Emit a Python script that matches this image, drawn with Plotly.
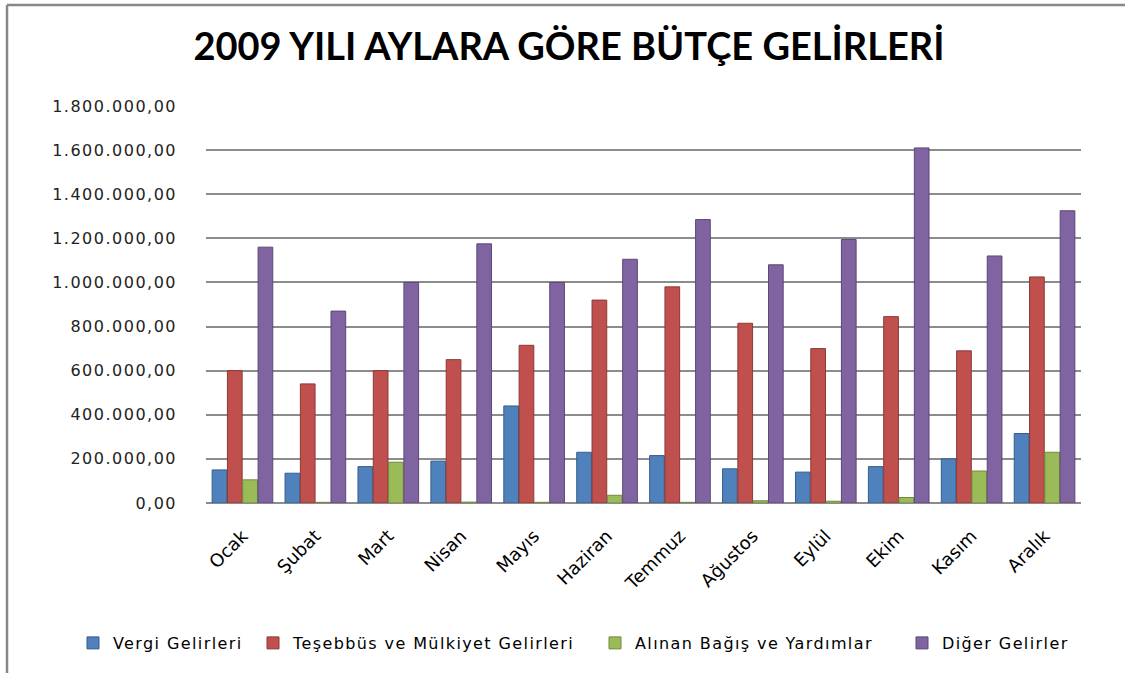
import plotly.graph_objects as go

months = ["Ocak", "Şubat", "Mart", "Nisan", "Mayıs", "Haziran", "Temmuz",
          "Ağustos", "Eylül", "Ekim", "Kasım", "Aralık"]
vergi = [150000, 135000, 165000, 190000, 440000, 230000, 215000, 155000, 140000, 165000, 200000, 315000]
tesebbus = [600000, 540000, 600000, 650000, 715000, 920000, 980000, 815000, 700000, 845000, 690000, 1025000]
bagis = [105000, 3000, 185000, 4000, 3000, 35000, 3000, 10000, 8000, 25000, 145000, 230000]
diger = [1160000, 870000, 1000000, 1175000, 1000000, 1105000, 1285000, 1080000, 1195000, 1610000, 1120000, 1325000]
y_ticks = [0, 200000, 400000, 600000, 800000, 1000000, 1200000, 1400000, 1600000, 1800000]
y_tick_labels = ["0,00", "200.000,00", "400.000,00", "600.000,00", "800.000,00",
                 "1.000.000,00", "1.200.000,00", "1.400.000,00", "1.600.000,00", "1.800.000,00"]

series = [
    ("Vergi Gelirleri", vergi, "#4F81BD", "#385D8A"),
    ("Teşebbüs ve Mülkiyet Gelirleri", tesebbus, "#C0504D", "#8C3836"),
    ("Alınan Bağış ve Yardımlar", bagis, "#9BBB59", "#71893F"),
    ("Diğer Gelirler", diger, "#8064A2", "#5C4776"),
]
legend_left_px = [85, 265, 607, 914]


def spaced(s, px):
    return f'<span style="letter-spacing:{px}px">{s}</span>'


W, H = 1125, 673
L, R, T, B = 206, 1081, 106, 503

fig = go.Figure()
legend_layouts = {}
for i, (name, vals, col, edge) in enumerate(series):
    lg = "legend" if i == 0 else f"legend{i + 1}"
    fig.add_trace(go.Bar(x=months, y=vals, name=spaced(name, 1.4), legend=lg,
                         marker=dict(color=col, line=dict(color=edge, width=1))))
    legend_layouts[lg] = dict(
        orientation="h", xref="container", yref="container",
        x=(legend_left_px[i] - 12) / W, xanchor="left",
        y=1 - 643 / H, yanchor="middle",
        bgcolor="rgba(0,0,0,0)",
        font=dict(family="DejaVu Sans", size=16, color="black"),
        itemwidth=30)

fig.update_layout(
    width=W, height=H,
    paper_bgcolor="white", plot_bgcolor="white",
    separators=",.",
    barmode="group", bargap=0.16, bargroupgap=0.04,
    margin=dict(l=L, r=W - R, t=T, b=H - B, autoexpand=False),
    title=dict(text="<b>2009 YILI AYLARA GÖRE BÜTÇE GELİRLERİ</b>",
               x=569 / W, xanchor="center", y=1 - 47 / H, yanchor="middle",
               font=dict(family="Lato", size=38, color="black")),
    font=dict(family="DejaVu Sans", color="black"),
    showlegend=True,
    **legend_layouts,
)
fig.update_yaxes(range=[0, 1800000], tickvals=y_ticks,
                 ticktext=[spaced(t, 1.5) for t in y_tick_labels],
                 showgrid=True, gridcolor="#8C8C8C", gridwidth=1.5,
                 zeroline=True, zerolinecolor="#8C8C8C", zerolinewidth=1.5,
                 showline=False, ticklabelstandoff=28,
                 tickfont=dict(family="DejaVu Sans", size=16, color="#222222"))
fig.update_xaxes(tickangle=-45, showline=False, ticklabelstandoff=18,
                 tickfont=dict(family="DejaVu Sans", size=18, color="black"))

# outer chart border (top and left edges visible)
fig.add_shape(type="line", xref="paper", yref="paper",
              x0=(7 - L) / (R - L), x1=(W + 5 - L) / (R - L),
              y0=(B - 5) / (B - T), y1=(B - 5) / (B - T),
              line=dict(color="#888888", width=2.5))
fig.add_shape(type="line", xref="paper", yref="paper",
              x0=(7 - L) / (R - L), x1=(7 - L) / (R - L),
              y0=(B - 5) / (B - T), y1=(B - H - 5) / (B - T),
              line=dict(color="#888888", width=2.5))

fig.write_html("out.html", config={"displayModeBar": False},
               post_script="document.body.style.margin='0';")
